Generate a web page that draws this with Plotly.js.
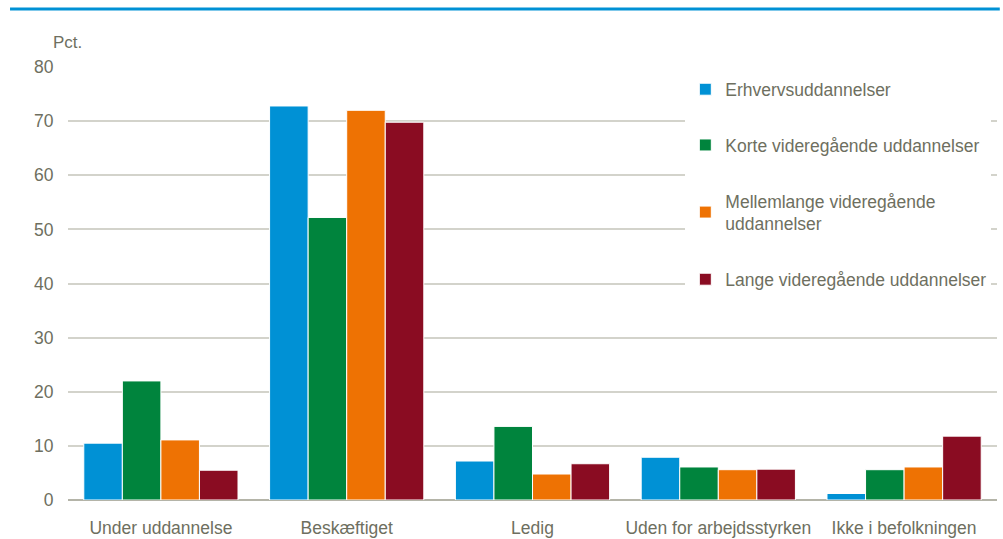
<!DOCTYPE html>
<html>
<head>
<meta charset="utf-8">
<script src="https://cdn.plot.ly/plotly-3.0.1.min.js"></script>
<style>html,body{margin:0;padding:0;background:#fff;}#chart{width:1003px;height:539px;}</style>
</head>
<body>
<div id="chart"></div>
<script>
const categories = ["Under uddannelse", "Beskæftiget", "Ledig", "Uden for arbejdsstyrken", "Ikke i befolkningen"];
const seriesNames = ["Erhvervsuddannelser", "Korte videregående uddannelser", "Mellemlange videregående<br>uddannelser", "Lange videregående uddannelser"];
const erhverv = [10.5, 72.8, 7.2, 7.9, 1.2];
const korte = [22.0, 52.2, 13.6, 6.1, 5.6];
const mellemlange = [11.1, 72.0, 4.8, 5.6, 6.1];
const lange = [5.5, 69.8, 6.7, 5.7, 11.8];
const colors = ["#0091d5", "#00843d", "#ee7203", "#8a0c22"];
const yTicks = [0, 10, 20, 30, 40, 50, 60, 70, 80];

const values = [erhverv, korte, mellemlange, lange];
const textColor = "#6e6f60";
const traces = values.map((v, i) => ({
  type: "bar",
  x: categories,
  y: v,
  name: seriesNames[i],
  legendgroup: "g" + i,
  marker: {color: colors[i], line: {color: "#ffffff", width: 1}}
}));

const layout = {
  width: 1003, height: 539,
  margin: {l: 68, r: 6, t: 67, b: 39},
  paper_bgcolor: "#ffffff", plot_bgcolor: "#ffffff",
  font: {family: "Liberation Sans, Arial, sans-serif", size: 17, color: textColor},
  barmode: "group",
  bargap: 0.17,
  bargroupgap: 0,
  showlegend: true,
  legend: {
    x: 0.6645, xanchor: "left", y: 0.99, yanchor: "top",
    bgcolor: "#ffffff", borderwidth: 0,
    traceorder: "grouped", tracegroupgap: 30,
    font: {size: 17.5, color: textColor}
  },
  xaxis: {
    type: "category",
    showgrid: false, zeroline: false,
    showline: false,
    ticks: "outside", ticklen: 12, tickcolor: "rgba(0,0,0,0)",
    tickfont: {size: 17.5, color: textColor}
  },
  yaxis: {
    range: [0, 80],
    tickvals: yTicks,
    ticktext: yTicks.map(String),
    showgrid: true, gridcolor: "#d3d3cb", gridwidth: 2,
    zeroline: true, zerolinecolor: "#b4b4a8", zerolinewidth: 2,
    ticks: "outside", ticklen: 10, tickcolor: "rgba(0,0,0,0)",
    tickfont: {size: 17.5, color: textColor}
  },
  shapes: [{
    type: "line", xref: "paper", yref: "paper",
    x0: -0.0624, x1: 1.003, y0: 1.134, y1: 1.134,
    line: {color: "#0091d5", width: 3}
  }],
  annotations: [{
    text: "Pct.", xref: "paper", yref: "paper",
    x: -0.018, y: 1.03, xanchor: "left", yanchor: "bottom",
    showarrow: false, font: {size: 17, color: textColor}
  }]
};

Plotly.newPlot("chart", traces, layout, {displayModeBar: false, staticPlot: true});
</script>
</body>
</html>
